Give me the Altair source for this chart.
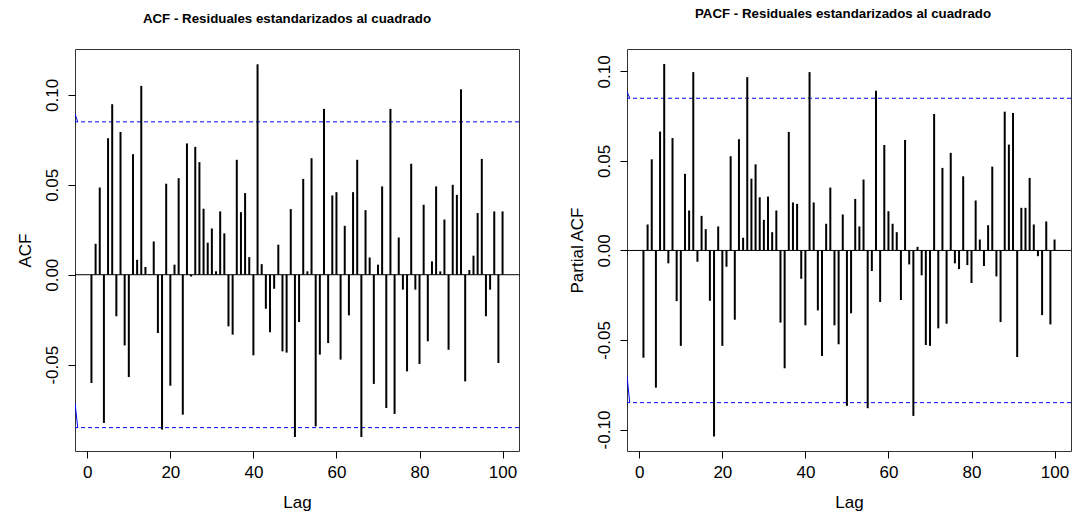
import altair as alt
import pandas as pd

# ---------------- data ----------------
lags = list(range(1, 101))

acf_values = [
    -0.0602, 0.0172, 0.0485, -0.0824, 0.0759, 0.0948, -0.0231, 0.0794, -0.0393, -0.0569,
    0.0670, 0.0083, 0.1050, 0.0043, 0.0004, 0.0185, -0.0324, -0.0861, 0.0506, -0.0617,
    0.0056, 0.0537, -0.0778, 0.0730, -0.0010, 0.0711, 0.0626, 0.0367, 0.0178, 0.0257,
    0.0019, 0.0352, 0.0230, -0.0287, -0.0333, 0.0639, 0.0348, 0.0454, 0.0098, -0.0448,
    0.1170, 0.0059, -0.0189, -0.0320, -0.0078, 0.0167, -0.0426, -0.0433, 0.0365, -0.0902,
    -0.0263, 0.0533, 0.0019, 0.0648, -0.0843, -0.0444, 0.0922, -0.0380, 0.0441, 0.0459,
    -0.0472, 0.0272, -0.0226, 0.0459, 0.0639, -0.0902, 0.0359, 0.0096, -0.0607, 0.0056,
    0.0491, -0.0741, 0.0922, -0.0774, 0.0207, -0.0083, -0.0537, 0.0617, -0.0083, -0.0496,
    0.0389, -0.0370, 0.0074, 0.0491, 0.0019, 0.0307, -0.0417, 0.0500, 0.0444, 0.1031,
    -0.0593, 0.0026, 0.0106, 0.0343, 0.0644, -0.0231, -0.0083, 0.0352, -0.0491, 0.0352,
]

pacf_values = [
    -0.0599, 0.0145, 0.0509, -0.0766, 0.0664, 0.1041, -0.0072, 0.0628, -0.0283, -0.0533,
    0.0428, 0.0223, 0.0996, -0.0063, 0.0193, 0.0119, -0.0281, -0.1039, 0.0134, -0.0533,
    -0.0091, 0.0526, -0.0387, 0.0621, 0.0071, 0.0968, 0.0401, 0.0481, 0.0297, 0.0171,
    0.0301, 0.0102, 0.0223, -0.0403, -0.0658, 0.0662, 0.0268, 0.0260, -0.0158, -0.0418,
    0.0996, 0.0268, -0.0335, -0.0589, 0.0149, 0.0351, -0.0418, -0.0524, 0.0201, -0.0868,
    -0.0351, 0.0288, 0.0134, 0.0396, -0.0881, -0.0115, 0.0892, -0.0288, 0.0589, 0.0219,
    0.0149, 0.0102, -0.0277, 0.0617, -0.0078, -0.0924, 0.0020, -0.0139, -0.0528, -0.0533,
    0.0762, -0.0435, 0.0461, -0.0409, 0.0545, -0.0072, -0.0104, 0.0414, -0.0082, -0.0182,
    0.0279, 0.0061, -0.0087, 0.0141, 0.0468, -0.0145, -0.0400, 0.0775, 0.0591, 0.0768,
    -0.0595, 0.0238, 0.0238, 0.0405, 0.0145, -0.0032, -0.0361, 0.0162, -0.0413, 0.0061,
]

ci_band = [0.085, -0.085]
zero_line = [0.0]

x_ticks = [0, 20, 40, 60, 80, 100]
acf_yticks = [-0.05, 0.0, 0.05, 0.10]
pacf_yticks = [-0.10, -0.05, 0.0, 0.05, 0.10]

acf_edge = {"lag": [-2.96, -2.3, -2.96, -2.3], "value": [0.0895, 0.085, -0.0713, -0.085], "grp": ["u", "u", "l", "l"]}
pacf_edge = {"lag": [-2.96, -2.3, -2.96, -2.3], "value": [0.0888, 0.085, -0.0701, -0.085], "grp": ["u", "u", "l", "l"]}

# ---------------- styling ----------------
FONT = "Liberation Sans"
W, H = 444, 402
XDOM = [-2.96, 103.96]


def make_panel(values, ytitle, ydom, yticks, title, title_offset, title_dx, edge):
    def xe(field="lag"):
        return alt.X(
            f"{field}:Q",
            scale=alt.Scale(domain=XDOM, nice=False, zero=False),
            axis=alt.Axis(
                values=x_ticks, format="d", title="Lag", domain=False, grid=False,
                tickSize=7, tickColor="black", tickWidth=1,
                labelFont=FONT, labelFontSize=17, labelColor="black",
                labelPadding=19, labelBaseline="alphabetic", labelFlush=False,
                labelAngle=0, labelOverlap=False,
                titleFont=FONT, titleFontSize=17, titleFontWeight="normal",
                titleColor="black", titleBaseline="alphabetic", titleY=56,
                titleX=W / 2, titleAlign="center",
            ),
        )

    def ye(field="value"):
        return alt.Y(
            f"{field}:Q",
            scale=alt.Scale(domain=ydom, nice=False, zero=False),
            axis=alt.Axis(
                values=yticks, title=ytitle, domain=False, grid=False,
                labelExpr="datum.value < 0 ? '-' + format(-datum.value, '.2f') : format(datum.value, '.2f')",
                tickSize=7, tickColor="black", tickWidth=1,
                labelFont=FONT, labelFontSize=17, labelColor="black",
                labelAngle=270, labelAlign="center", labelBaseline="alphabetic",
                labelPadding=11, labelFlush=False, labelOverlap=False,
                titleFont=FONT, titleFontSize=17, titleFontWeight="normal",
                titleColor="black", titleAngle=270, titleBaseline="alphabetic",
                titleAlign="center", titleX=-45, titleY=H / 2,
            ),
        )

    df = pd.DataFrame({"lag": lags, "value": values, "base": [0.0] * len(lags)})
    bars = alt.Chart(df).mark_rule(color="black", strokeWidth=2).encode(
        x=xe(), y=ye(), y2=alt.Y2("base:Q")
    )
    zero = alt.Chart(pd.DataFrame({"value": zero_line})).mark_rule(
        color="black", strokeWidth=1
    ).encode(y=ye())
    ci = alt.Chart(pd.DataFrame({"value": ci_band})).mark_rule(
        color="#0000FF", strokeWidth=1, strokeDash=[4, 3]
    ).encode(y=ye())
    edge_line = alt.Chart(pd.DataFrame(edge)).mark_line(
        color="#0000FF", strokeWidth=1, clip=True
    ).encode(x=xe(), y=ye(), detail="grp:N")

    return alt.layer(ci, zero, bars, edge_line).properties(
        width=W, height=H,
        title=alt.TitleParams(
            text=title, font=FONT, fontSize=13.3, fontWeight="bold", color="black",
            anchor="middle", frame="group", offset=title_offset, dx=title_dx,
            baseline="alphabetic",
        ),
    )


acf_chart = make_panel(acf_values, "ACF", [-0.098, 0.1255], acf_yticks,
                       "ACF - Residuales estandarizados al cuadrado", 13, -10, acf_edge)
pacf_chart = make_panel(pacf_values, "Partial ACF", [-0.112, 0.1125], pacf_yticks,
                        "PACF - Residuales estandarizados al cuadrado", 18, -6, pacf_edge)

chart = alt.hconcat(acf_chart, pacf_chart, spacing=108, bounds="flush").configure_view(
    stroke="#333333", strokeWidth=1
).properties(
    padding={"left": 15, "top": 6, "right": 5, "bottom": 5},
    background="white",
)

chart.save("out.html", embed_options={"renderer": "svg", "actions": False})
